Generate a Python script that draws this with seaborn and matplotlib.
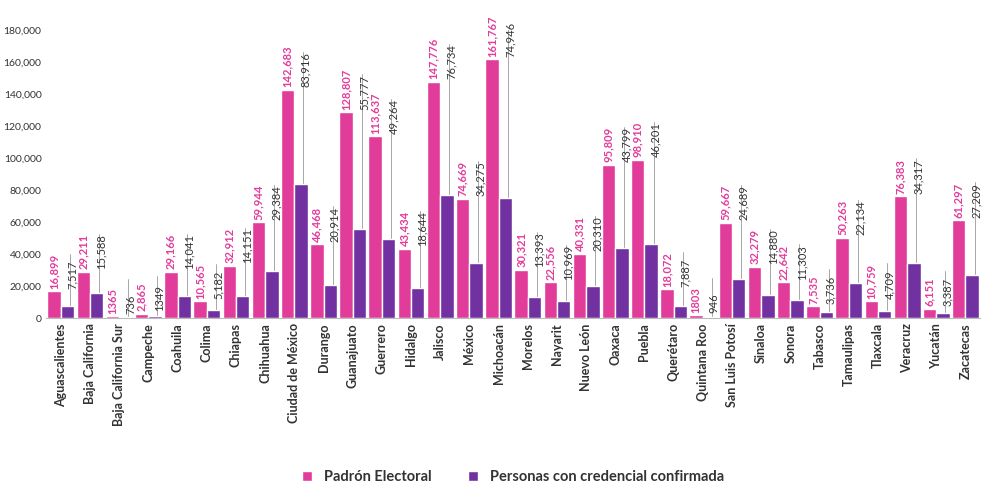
import pandas as pd
import matplotlib.pyplot as plt
import seaborn as sns

estados = ["Aguascalientes", "Baja California", "Baja California Sur", "Campeche", "Coahuila", "Colima",
           "Chiapas", "Chihuahua", "Ciudad de México", "Durango", "Guanajuato", "Guerrero", "Hidalgo",
           "Jalisco", "México", "Michoacán", "Morelos", "Nayarit", "Nuevo León", "Oaxaca", "Puebla",
           "Querétaro", "Quintana Roo", "San Luis Potosí", "Sinaloa", "Sonora", "Tabasco", "Tamaulipas",
           "Tlaxcala", "Veracruz", "Yucatán", "Zacatecas"]
padron = [16899, 29211, 1365, 2865, 29166, 10565, 32912, 59944, 142683, 46468, 128807, 113637, 43434,
          147776, 74669, 161767, 30321, 22556, 40331, 95809, 98910, 18072, 1803, 59667, 32279, 22642,
          7535, 50263, 10759, 76383, 6151, 61297]
credencial = [7517, 15588, 736, 1349, 14041, 5182, 14151, 29384, 83916, 20914, 55777, 49264, 18644,
              76734, 34275, 74946, 13393, 10969, 20310, 43799, 46201, 7887, 946, 24689, 14880, 11303,
              3736, 22134, 4709, 34317, 3387, 27209]
# etiquetas tal como aparecen (algunas sin separador)
lab_p = ["16,899", "29,211", "1365", "2,865", "29,166", "10,565", "32,912", "59,944", "142,683", "46,468",
         "128,807", "113,637", "43,434", "147,776", "74,669", "161,767", "30,321", "22,556", "40,331",
         "95,809", "98,910", "18,072", "1803", "59,667", "32,279", "22,642", "7,535", "50,263", "10,759",
         "76,383", "6,151", "61,297"]
lab_c = ["7,517", "15,588", "736", "1349", "14,041", "5,182", "14,151", "29,384", "83,916", "20,914",
         "55,777", "49,264", "18,644", "76,734", "34,275", "74,946", "13,393", "10,969", "20,310",
         "43,799", "46,201", "7,887", "946", "24,689", "14,880", "11,303", "3,736", "22,134", "4,709",
         "34,317", "3,387", "27,209"]

ROSA = "#E23C9B"
MORADO = "#7131A1"
s1, s2 = "Padrón Electoral", "Personas con credencial confirmada"

df = pd.DataFrame({"estado": estados * 2,
                   "valor": padron + credencial,
                   "serie": [s1] * len(estados) + [s2] * len(estados)})

sns.set_style("white")
plt.rcParams['font.family'] = ['Lato', 'DejaVu Sans']
fig, ax = plt.subplots(figsize=(9.85, 4.99), dpi=100)
sns.barplot(data=df, x="estado", y="valor", hue="serie", palette=[ROSA, MORADO],
            width=0.92, gap=0, ax=ax, saturation=1)

bw = 0.46
for i in range(len(estados)):
    xp = i - bw / 2
    xc = i + bw / 2
    ax.text(xp, padron[i] + 1500, lab_p[i], rotation=90, ha="center", va="bottom",
            color=ROSA, fontsize=8, fontweight="bold")
    top = padron[i] + 1500
    ax.plot([xc + 0.08, xc + 0.08], [credencial[i], top + 22000], color="#999999", lw=0.6, zorder=0)
    ax.text(xc + 0.16, top, lab_c[i], rotation=90, ha="center", va="bottom",
            color="#333333", fontsize=8)

ax.set_ylim(0, 180000)
ax.set_yticks(range(0, 180001, 20000))
ax.set_yticklabels([f"{v:,}" for v in range(0, 180001, 20000)], fontsize=7.5, color="#333333")
ax.set_xlim(-0.5, len(estados) - 0.5)
ax.set_xlabel("")
ax.set_ylabel("")
plt.setp(ax.get_xticklabels(), rotation=90, fontsize=9, fontweight="bold", color="#333333")
ax.tick_params(axis="both", length=0)
for s in ["top", "right", "left"]:
    ax.spines[s].set_visible(False)
ax.spines["bottom"].set_color("#BBBBBB")
ax.legend(loc="lower center", bbox_to_anchor=(0.5, -0.62), ncol=2, frameon=False,
          handlelength=0.7, handleheight=0.7, columnspacing=2.5,
          prop={"weight": "bold", "size": 10.5})
for t in ax.get_legend().get_texts():
    t.set_color("#333333")

plt.subplots_adjust(left=0.047, right=0.995, top=0.94, bottom=0.362)
plt.savefig("out.png", dpi=100)
